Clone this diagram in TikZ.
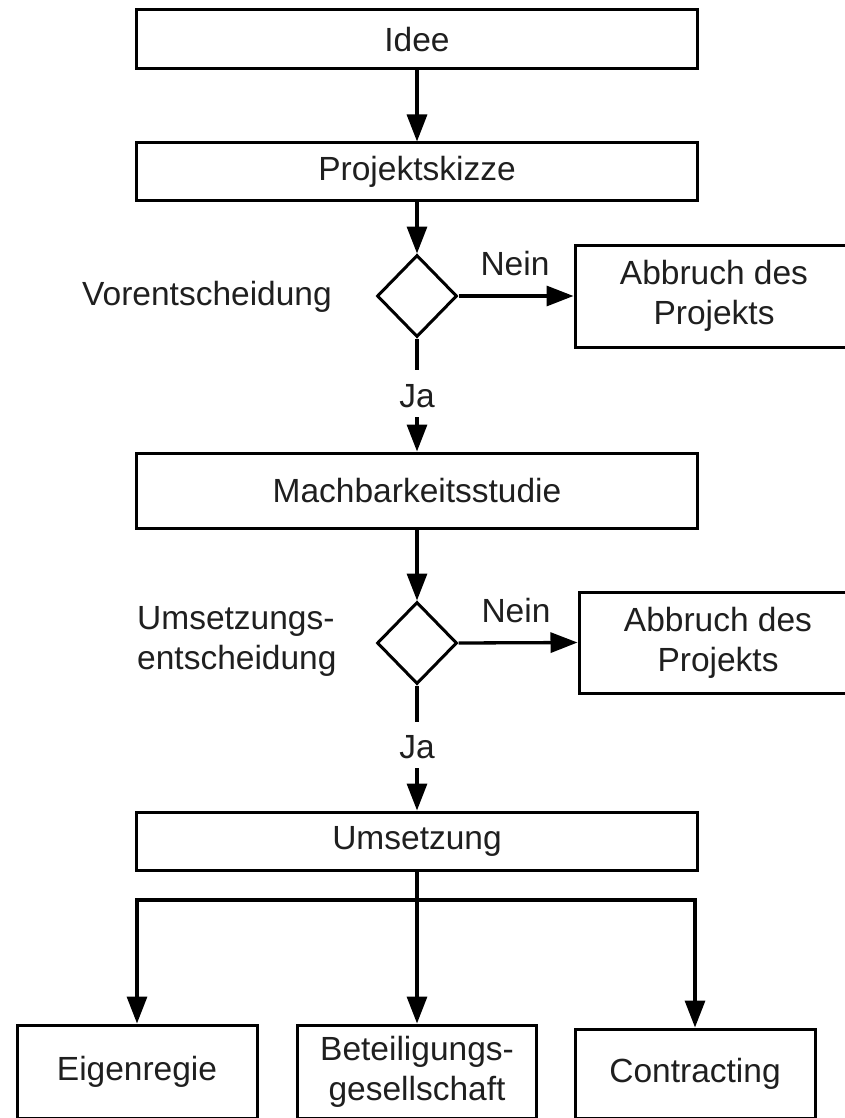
\documentclass[tikz,border=0pt]{standalone}
\usepackage{fontspec}
\setmainfont{Liberation Sans}
\usetikzlibrary{arrows.meta,shapes.geometric}
\begin{document}
\begin{tikzpicture}[x=1pt,y=-1pt,
  every node/.style={font=\fontsize{33.5}{40}\selectfont, text=black!88},
  box/.style={draw=black, line width=3pt, rectangle, inner sep=0pt, align=center},
  dec/.style={draw=black, line width=3pt, diamond, inner sep=0pt, minimum width=80pt, minimum height=82pt},
  conn/.style={draw=black, line width=3.3pt},
  arr/.style={conn, -{Triangle[length=27pt,width=20pt]}},
  lbl/.style={inner sep=0pt}]
\useasboundingbox[fill=white] (0,0) rectangle (844,1118);

% main column
\node[box, minimum width=561pt, minimum height=59pt] (idee) at (417,39.5) {Idee};
\node[box, minimum width=561pt, minimum height=57pt] (proj) at (417,171.5) {Projektskizze};
\node[dec] (d1) at (417,296) {};
\node[box, minimum width=278pt, minimum height=102pt] (abb1) at (714,296) {Abbruch des\\Projekts};
\node[lbl, anchor=west] (vor) at (82,297) {Vorentscheidung};
\node[lbl] (nein1) at (515,264) {Nein};
\coordinate (j1a) at (417,370);
\node[lbl] (ja1) at (417,396) {Ja};
\coordinate (j1b) at (417,417);

\node[box, minimum width=561pt, minimum height=75pt] (mach) at (417,490.5) {Machbarkeitsstudie};
\node[dec] (d2) at (417,643) {};
\node[box, minimum width=278pt, minimum height=101pt] (abb2) at (718,642.5) {Abbruch des\\Projekts};
\node[lbl, anchor=west, align=left] (umsl) at (137,641) {Umsetzungs-\\entscheidung};
\node[lbl] (nein2) at (516,610.5) {Nein};
\coordinate (j2a) at (417,722);
\node[lbl] (ja2) at (417,747) {Ja};
\coordinate (j2b) at (417,768);

\node[box, minimum width=561pt, minimum height=58pt] (ums) at (417,841) {Umsetzung};
\coordinate (bl) at (137,900);
\coordinate (bm) at (417,900);
\coordinate (br) at (695,900);

\node[box, minimum width=240pt, minimum height=93pt] (eig) at (137,1071.5) {Eigenregie};
\node[box, minimum width=239pt, minimum height=93pt] (bet) at (417,1071.5) {Beteiligungs-\\gesellschaft};
\node[box, minimum width=240pt, minimum height=89pt] (con) at (695,1073.5) {Contracting};

% connectors
\draw[arr] (idee.south) -- (proj.north);
\draw[arr] (proj.south) -- (d1.north);
\draw[arr] (d1.east) -- (abb1.west);
\draw[conn] (d1.south) -- (j1a);
\draw[arr] (j1b) -- (mach.north);
\draw[arr] (mach.south) -- (d2.north);
\draw[arr] (d2.east) -- (abb2.west);
\draw[conn] (d2.south) -- (j2a);
\draw[arr] (j2b) -- (ums.north);
\draw[conn] (ums.south) -- (bm);
\draw[conn, line cap=rect] (bl) -- (br);
\draw[arr] (bl) -- (eig.north);
\draw[arr] (bm) -- (bet.north);
\draw[arr] (br) -- (con.north);
\end{tikzpicture}
\end{document}
